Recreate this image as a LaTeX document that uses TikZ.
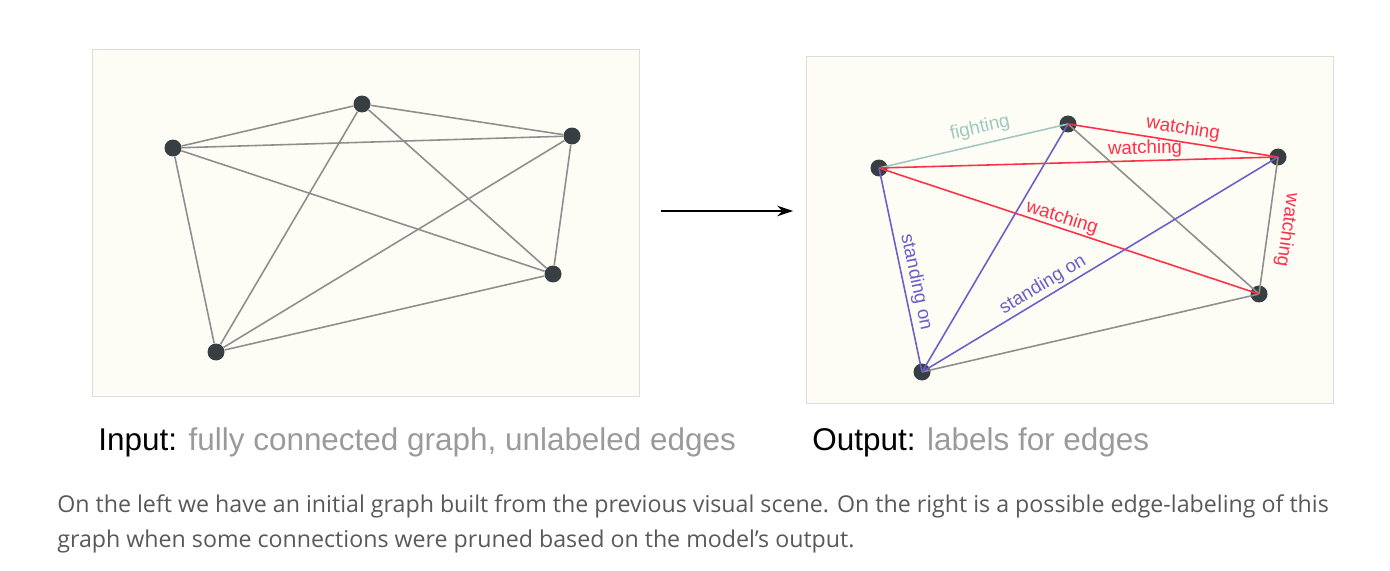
\documentclass[tikz,border=0pt]{standalone}
\usepackage{fontspec}
\setmainfont{Liberation Sans}
\newfontfamily\capfont{Open Sans}
\usetikzlibrary{arrows.meta}
\definecolor{boxfill}{HTML}{FDFDF6}
\definecolor{boxline}{HTML}{DCDCDC}
\definecolor{dotfill}{HTML}{373F42}
\definecolor{edgegray}{HTML}{8E8E8E}
\definecolor{watchred}{HTML}{FF3048}
\definecolor{standblue}{HTML}{6C5FC7}
\definecolor{fightteal}{HTML}{A0C8C0}
\definecolor{titlegray}{HTML}{9A9A9A}
\definecolor{textgray}{HTML}{595959}
\begin{document}
\begin{tikzpicture}[x=0.02cm,y=-0.02cm,
    dot/.style={circle,fill=dotfill,inner sep=0pt,minimum size=0.34cm},
    edge/.style={edgegray,line width=0.9pt},
    rel/.style={font=\fontsize{10.7}{12}\selectfont,inner sep=1pt},
    title/.style={anchor=base west,inner sep=0pt,font=\fontsize{17.9}{21}\selectfont},
    caption/.style={anchor=base west,inner sep=0pt,text=textgray,font=\capfont\fontsize{13.2}{16}\selectfont}]
    \useasboundingbox (0,0) rectangle (1390,571);

    % Input graph
    \draw[boxline,fill=boxfill] (92,49) rectangle (639,396);
    \node[dot] (a) at (173,148) {};
    \node[dot] (b) at (362,104) {};
    \node[dot] (c) at (572,136) {};
    \node[dot] (d) at (553,274) {};
    \node[dot] (e) at (216,352) {};
    \draw[edge] (a) -- (b);
    \draw[edge] (a) -- (c);
    \draw[edge] (a) -- (d);
    \draw[edge] (a) -- (e);
    \draw[edge] (b) -- (c);
    \draw[edge] (b) -- (d);
    \draw[edge] (b) -- (e);
    \draw[edge] (c) -- (d);
    \draw[edge] (c) -- (e);
    \draw[edge] (d) -- (e);

    % Arrow
    \coordinate (arrowstart) at (661,211);
    \coordinate (arrowend) at (793,211);
    \draw[-{Stealth[length=9pt,width=6pt]},line width=0.7pt] (arrowstart) -- (arrowend);

    % Output graph
    \draw[boxline,fill=boxfill] (806,56) rectangle (1333,403);
    \node[dot] (oa) at (879,168) {};
    \node[dot] (ob) at (1068,124) {};
    \node[dot] (oc) at (1278,157) {};
    \node[dot] (od) at (1259,294) {};
    \node[dot] (oe) at (922,372) {};
    \draw[edge] (ob.center) -- (od.center);
    \draw[edge] (oc.center) -- (od.center);
    \draw[edge] (oe.center) -- (od.center);
    \draw[fightteal,line width=0.9pt] (oa.center) -- (ob.center);
    \draw[watchred,line width=0.9pt] (ob.center) -- (oc.center);
    \draw[watchred,line width=0.9pt] (oc.center) -- (oa.center);
    \draw[watchred,line width=0.9pt] (od.center) -- (oa.center);
    \draw[standblue,line width=0.9pt] (oa.center) -- (oe.center);
    \draw[standblue,line width=0.9pt] (ob.center) -- (oe.center);
    \draw[standblue,line width=0.9pt] (oc.center) -- (oe.center);

    % Edge labels
    \node[rel,text=fightteal,rotate=13] (lab1) at (980,128) {fighting};
    \node[rel,text=watchred,rotate=-9] (lab2) at (1183,129) {watching};
    \node[rel,text=watchred,rotate=1] (lab3) at (1145,149) {watching};
    \node[rel,text=watchred,rotate=-18] (lab4) at (1062,218) {watching};
    \node[rel,text=watchred,rotate=-98] (lab5) at (1287,230) {watching};
    \node[rel,text=standblue,rotate=-78] (lab6) at (916,282) {standing on};
    \node[rel,text=standblue,rotate=31] (lab7) at (1043,285) {standing on};

    % Titles
    \node[title] (intitle) at (98,450) {Input: \textcolor{titlegray}{fully connected graph, unlabeled edges}};
    \node[title] (outtitle) at (812,450) {Output: \textcolor{titlegray}{labels for edges}};

    % Caption
    \node[caption] (cap1) at (57,512) {On the left we have an initial graph built from the previous visual scene. On the right is a possible edge-labeling of this};
    \node[caption] (cap2) at (57,547) {graph when some connections were pruned based on the model’s output.};
\end{tikzpicture}
\end{document}
